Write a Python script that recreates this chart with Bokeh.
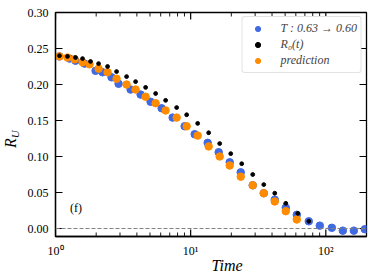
import math
from bokeh.plotting import figure
from bokeh.layouts import row
from bokeh.models import (Span, Label, Legend, LegendItem, FixedTicker, PrintfTickFormatter, Div)
from bokeh.embed import file_html
from bokeh.resources import INLINE

# ---- data ----
t_blue = [1.07, 1.27, 1.406, 1.640, 1.979, 2.229, 2.598, 2.929, 3.594, 4.263,
          5.053, 6.099, 7.356, 9.028, 10.71, 13.36, 16.12, 19.45, 23.47, 28.79,
          34.74, 41.90, 50.55, 60.99, 74.82, 90.28, 110.8, 133.6, 161.2, 194.5]
r_blue = [0.239, 0.236, 0.233, 0.229, 0.219, 0.217, 0.210, 0.201, 0.193, 0.186,
          0.176, 0.167, 0.154, 0.142, 0.131, 0.119, 0.106, 0.092, 0.078, 0.060,
          0.049, 0.040, 0.029, 0.019, 0.010, 0.004, 0.001, -0.003, -0.003, -0.001]

t_pred = [1.07, 1.227, 1.383, 1.585, 1.786, 2.083, 2.428, 2.830, 3.357, 3.913,
          4.642, 5.506, 6.528, 7.877, 9.341, 11.27, 13.59, 16.40, 19.45, 23.47,
          28.79, 34.74, 41.90, 50.55, 60.99]
r_pred = [0.239, 0.2375, 0.235, 0.231, 0.228, 0.222, 0.217, 0.208, 0.200, 0.193,
          0.183, 0.174, 0.164, 0.154, 0.142, 0.129, 0.114, 0.100, 0.0875, 0.072,
          0.060, 0.049, 0.0375, 0.024, 0.0125]

t_r0 = [1.07, 1.227, 1.406, 1.585, 1.816, 2.083, 2.428, 2.830, 3.357, 3.913,
        4.642, 5.506, 6.528, 7.877, 9.341, 11.27, 13.59, 16.40, 19.79, 23.87,
        28.79, 34.74, 41.90, 50.55, 62.03, 74.82]
r_r0 = [0.240, 0.239, 0.2375, 0.236, 0.232, 0.229, 0.225, 0.218, 0.211, 0.204,
        0.196, 0.1875, 0.178, 0.168, 0.158, 0.146, 0.133, 0.118, 0.104, 0.090,
        0.075, 0.061, 0.049, 0.035, 0.021, 0.010]

y_ticks = [0.00, 0.05, 0.10, 0.15, 0.20, 0.25, 0.30]
x_ticks = [1, 10, 100]
x_minor = [2, 3, 4, 5, 6, 7, 8, 9, 20, 30, 40, 50, 60, 70, 80, 90, 200]
x_tick_labels = ["10\u2070", "10\u00b9", "10\u00b2"]
legend_labels = ["T : 0.63 \u2192 0.60", "R\u2080(t)", "prediction"]
x_title = "Time"
y_title_main = "R"
y_title_sub = "U"
panel_tag = "(f)"

FONT = "Liberation Serif"
BLUE = "#4169e1"
ORANGE = "#ff8c00"

X0, X1 = 1, 200
Y0, Y1 = -0.0111, 0.30
FW, FH = 311, 224
MAJ, MIN = 7, 4  # tick lengths in px

# ---------- narrow strip holding the rotated y title (HTML text) ----------
ytitle_html = (
    '<div style="position:relative;width:20px;height:279px;overflow:visible;">'
    '<span style="position:absolute;left:3px;top:148px;transform-origin:0 0;'
    'transform:rotate(-90deg);white-space:nowrap;line-height:16px;'
    "font-family:'Liberation Serif',serif;font-size:16px;font-style:italic;color:black;\">"
    + y_title_main +
    '<sub style="font-size:11px;vertical-align:-3px;line-height:0;">' + y_title_sub + '</sub>'
    '</span></div>'
)
lab = Div(text=ytitle_html, width=20, height=279, margin=0)

# ---------- main plot ----------
p = figure(x_axis_type="log", x_range=(X0, X1), y_range=(Y0, Y1),
           frame_width=FW, frame_height=FH,
           min_border_left=35, min_border_right=8, min_border_top=12, min_border_bottom=43,
           output_backend="svg", toolbar_location=None)
p.grid.visible = False
p.outline_line_color = "black"
p.outline_line_width = 1.3
p.background_fill_color = "white"

xa = p.xaxis[0]
ya = p.yaxis[0]
xa.ticker = FixedTicker(ticks=x_ticks, minor_ticks=x_minor)
xa.major_label_overrides = {k: v for k, v in zip(x_ticks, x_tick_labels)}
ya.ticker = FixedTicker(ticks=y_ticks)
ya.formatter = PrintfTickFormatter(format="%.2f")
for ax in (xa, ya):
    ax.axis_line_color = "black"
    ax.axis_line_width = 1.3
    ax.major_tick_in = 0
    ax.major_tick_out = 0
    ax.minor_tick_in = 0
    ax.minor_tick_out = 0
    ax.major_label_text_font = FONT
    ax.major_label_text_font_size = "12px"
    ax.major_label_text_color = "black"
    ax.major_label_standoff = 7

xa.axis_label = "\u00a0" * 8 + x_title
xa.axis_label_text_font = FONT
xa.axis_label_text_font_size = "16px"
xa.axis_label_text_font_style = "italic"
xa.axis_label_text_color = "black"
xa.axis_label_standoff = -4

# inward ticks on all four sides (drawn inside the frame)
dy_maj = MAJ * (Y1 - Y0) / FH
dy_min = MIN * (Y1 - Y0) / FH
fx_maj = 10 ** (MAJ * math.log10(X1 / X0) / FW)
for ticks, dy, w in ((x_ticks, dy_maj, 1.2), (x_minor, dy_min, 0.9)):
    n = len(ticks)
    p.segment(x0=ticks, y0=[Y0] * n, x1=ticks, y1=[Y0 + dy] * n, line_color="black", line_width=w)
    p.segment(x0=ticks, y0=[Y1] * n, x1=ticks, y1=[Y1 - dy] * n, line_color="black", line_width=w)
n = len(y_ticks)
p.segment(x0=[X0] * n, y0=y_ticks, x1=[X0 * fx_maj] * n, y1=y_ticks, line_color="black", line_width=1.2)
p.segment(x0=[X1] * n, y0=y_ticks, x1=[X1 / fx_maj] * n, y1=y_ticks, line_color="black", line_width=1.2)

# zero line
p.add_layout(Span(location=0, dimension="width", line_color="#808080",
                  line_dash="4 2", line_width=1))

rb = p.scatter(t_blue, r_blue, size=7.5, color=BLUE, marker="circle")
ro = p.scatter(t_pred, r_pred, size=7.5, color=ORANGE, marker="circle")
rk = p.scatter(t_r0, r_r0, size=3.8, color="black", marker="circle")

legend = Legend(items=[LegendItem(label=legend_labels[0], renderers=[rb]),
                       LegendItem(label=legend_labels[1], renderers=[rk]),
                       LegendItem(label=legend_labels[2], renderers=[ro])],
                location="top_right")
legend.margin = 4
legend.padding = 4
legend.spacing = 1
legend.glyph_width = 22
legend.glyph_height = 13
legend.label_height = 13
legend.label_standoff = 12
legend.label_text_font = FONT
legend.label_text_font_style = "italic"
legend.label_text_font_size = "12px"
legend.border_line_color = "#c8c8c8"
legend.border_line_width = 1
legend.background_fill_alpha = 1.0
try:
    legend.border_radius = 3
except Exception:
    pass
p.add_layout(legend)

p.add_layout(Label(x=1.419, y=0.029, text=panel_tag, text_font=FONT, text_font_size="12px",
                   text_align="center", text_baseline="middle", text_color="black"))

layout = row(lab, p, spacing=0)
open("out.html", "w").write(file_html(layout, INLINE))
